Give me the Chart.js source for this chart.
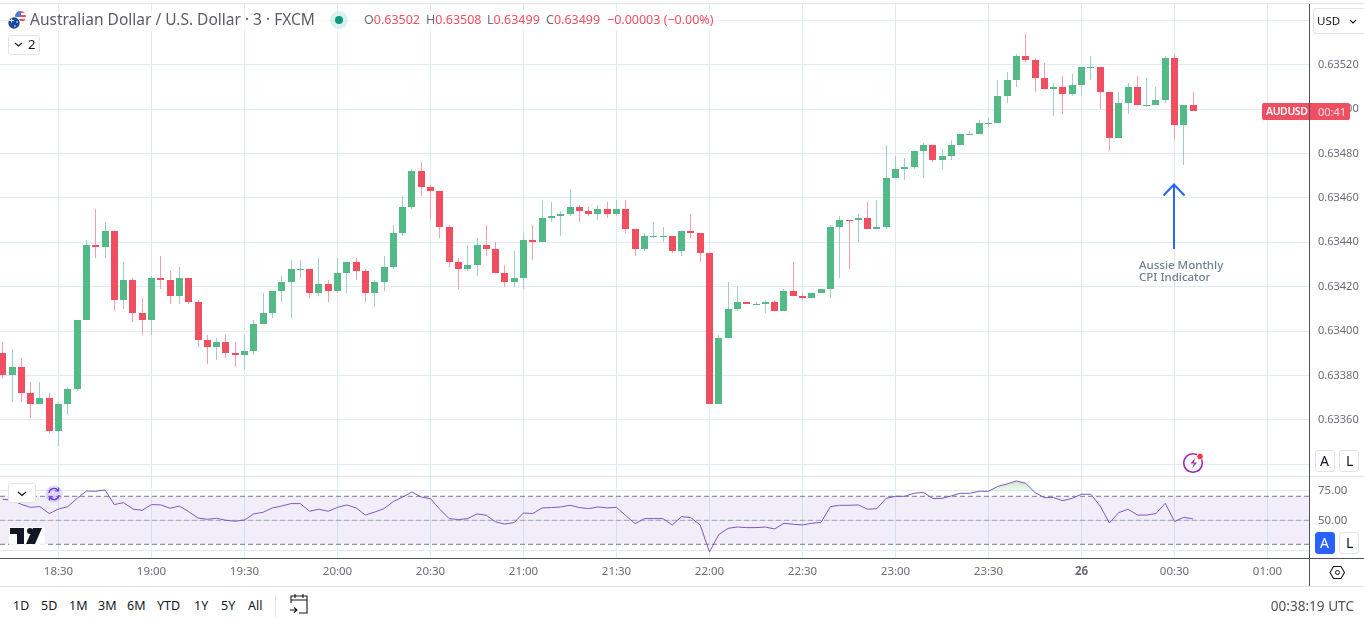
<!DOCTYPE html>
<html><head><meta charset="utf-8">
<style>
html,body{margin:0;padding:0;background:#fff;width:1364px;height:621px;overflow:hidden;font-family:"Noto Sans",sans-serif;}
canvas{position:absolute;left:0;}
.t{position:absolute;white-space:nowrap;line-height:1;}
.box{position:absolute;box-sizing:border-box;border:1px solid #e0e3eb;border-radius:3px;background:#fff;}
.ln{position:absolute;}
.r{color:#ef4f60}
.o{position:absolute;white-space:nowrap;line-height:1;top:14px;font-size:12.5px;color:#6a6d78}
svg{position:absolute;left:0;top:0;}
</style>
<script src="https://cdn.jsdelivr.net/npm/chart.js@4/dist/chart.umd.min.js"></script>
</head><body>
<canvas id="main" width="1364" height="472" style="top:4px;width:1364px;height:472px"></canvas>
<canvas id="rsi" width="1364" height="109" style="top:477px;width:1364px;height:109px"></canvas>
<div class="ln" style="left:0;top:3px;width:1364px;height:1px;background:#e0e3eb"></div>
<div class="ln" style="left:0;top:476px;width:1364px;height:1px;background:#e0e3eb"></div>
<div class="ln" style="left:0;top:558px;width:1364px;height:1px;background:#50535e"></div>
<div class="ln" style="left:1309px;top:4px;width:1px;height:582px;background:#50535e"></div>
<div class="ln" style="left:0;top:586px;width:1364px;height:1px;background:#e0e3eb"></div>
<div class="ln" style="left:275px;top:595px;width:1px;height:22px;background:#e0e3eb"></div>

<div class="ln" style="left:28px;top:11px;width:690px;height:20px;background:rgba(255,255,255,.75)"></div>
<div class="t" style="left:30px;top:12px;font-size:15.5px;color:#5a5d68">Australian Dollar / U.S. Dollar · 3 · FXCM</div>
<div class="o" style="left:364px">O<span class="r">0.63502</span></div>
<div class="o" style="left:426px">H<span class="r">0.63508</span></div>
<div class="o" style="left:487px">L<span class="r">0.63499</span></div>
<div class="o" style="left:546px">C<span class="r">0.63499</span></div>
<div class="o r" style="left:607px;color:#ef4f60">−0.00003 (−0.00%)</div>
<div class="box" style="left:8px;top:35px;width:32px;height:20px"></div>
<div class="t" style="left:28px;top:38px;font-size:13px;color:#131722">2</div>
<div class="box" style="left:8px;top:483px;width:28px;height:20px"></div>

<div class="box" style="left:1313px;top:8px;width:51px;height:26px;border-radius:4px 0 0 4px;border-right:0"></div>
<div class="t" style="left:1317px;top:15px;font-size:11.5px;color:#131722">USD</div>

<div class="ln" style="left:1262px;top:103px;width:88px;height:17px;background:#ef4f60;border-radius:2px"></div>
<div class="ln" style="left:1309px;top:103px;width:1px;height:17px;background:#50535e"></div>
<div class="t" style="left:1266px;top:106px;font-size:10.5px;font-weight:600;letter-spacing:-.4px;color:#fff">AUDUSD</div>
<div class="t" style="left:1318px;top:106px;font-size:11px;color:#fbdde0">00:41</div>

<div class="t" style="left:1139px;top:259px;font-size:11.5px;font-weight:500;color:#708090">Aussie Monthly</div>
<div class="t" style="left:1139px;top:271px;font-size:11.5px;font-weight:500;color:#708090">CPI Indicator</div>

<div class="box" style="left:1315px;top:450px;width:20px;height:22px"></div>
<div class="t" style="left:1320px;top:454px;font-size:14px;color:#131722">A</div>
<div class="box" style="left:1339px;top:450px;width:20px;height:22px"></div>
<div class="t" style="left:1346px;top:454px;font-size:14px;color:#131722">L</div>
<div class="box" style="left:1315px;top:532px;width:20px;height:22px;background:#2962ff;border-color:#2962ff"></div>
<div class="t" style="left:1320px;top:536px;font-size:14px;color:#fff">A</div>
<div class="box" style="left:1339px;top:532px;width:20px;height:22px"></div>
<div class="t" style="left:1346px;top:536px;font-size:14px;color:#131722">L</div>

<div class="t" style="left:13px;top:600px;font-size:12.5px;color:#131722">1D</div>
<div class="t" style="left:41px;top:600px;font-size:12.5px;color:#131722">5D</div>
<div class="t" style="left:69px;top:600px;font-size:12.5px;color:#131722">1M</div>
<div class="t" style="left:98px;top:600px;font-size:12.5px;color:#131722">3M</div>
<div class="t" style="left:127px;top:600px;font-size:12.5px;color:#131722">6M</div>
<div class="t" style="left:157px;top:600px;font-size:12.5px;color:#131722">YTD</div>
<div class="t" style="left:194px;top:600px;font-size:12.5px;color:#131722">1Y</div>
<div class="t" style="left:221px;top:600px;font-size:12.5px;color:#131722">5Y</div>
<div class="t" style="left:248px;top:600px;font-size:12.5px;color:#131722">All</div>
<div class="t" style="right:10px;top:599px;font-size:13.6px;color:#50535e">00:38:19 UTC</div>

<svg width="1364" height="621" viewBox="0 0 1364 621" fill="none">
 <defs><clipPath id="us"><circle cx="20.5" cy="16.5" r="5.5"/></clipPath></defs>
 <g clip-path="url(#us)"><rect x="15" y="11" width="12" height="12" fill="#fff"/>
  <rect x="15" y="11" width="12" height="2" fill="#ef4f60"/><rect x="15" y="15" width="12" height="2" fill="#ef4f60"/><rect x="15" y="19" width="12" height="2" fill="#ef4f60"/>
  <rect x="15" y="11" width="6" height="6" fill="#4a7fd8"/></g>
 <circle cx="14" cy="23" r="6.5" fill="#fff"/><circle cx="14" cy="23" r="5.7" fill="#1d4a9c"/>
 <path d="M9 20h5v1H9zM11 18.5h1v4h-1z" fill="#f5f5f5"/><circle cx="15" cy="26" r=".8" fill="#fff"/><circle cx="17" cy="22" r=".8" fill="#fff"/>
 <circle cx="339" cy="20" r="9" fill="#089981" fill-opacity=".14"/><circle cx="339" cy="20" r="4" fill="#089981"/>
 <path d="M15 43l3.500 3 3.500-3" stroke="#131722" stroke-width="1.100"/>
 <path d="M18 492l4 3.500 4-3.500" stroke="#131722" stroke-width="1.200"/>
 <path d="M1350 20l3 3 3-3" stroke="#131722" stroke-width="1.100"/>
 <path d="M1174 249V185M1163.500 195.500L1174 184.500l10.500 11" stroke="#2962ff" stroke-width="2"/>
 <circle cx="54" cy="494" r="8.500" fill="#9c7cf0" fill-opacity=".3"/>
 <path d="M49 493a5 5 0 0 1 9-2.500M59 495a5 5 0 0 1-9 2.500" stroke="#6237e8" stroke-width="1.300"/>
 <path d="M58.500 487.500v3.500h-3.500M49.500 500.500v-3.500h3.500" stroke="#6237e8" stroke-width="1.200"/>
 <g transform="translate(10 528)"><path d="M-1-1h36v18H-1z" fill="#fff" fill-opacity=".85"/><path d="M0 0h14v16H7V6H0z" fill="#131722"/><circle cx="20" cy="3" r="3" fill="#131722"/><path d="M23 0h9l-7 16h-9z" fill="#131722"/></g>
 <circle cx="1193" cy="463" r="9.300" stroke="#9c27b0" stroke-width="1.600"/>
 <path d="M1195.500 457.500l-5 6h3.500l-2 5 5-6h-3.500z" fill="#9c27b0"/>
 <circle cx="1200" cy="456.500" r="3.200" fill="#f23645" stroke="#fff" stroke-width=".8"/>
 <path d="M1330 572.500l3.500-6h7.500l3.500 6-3.500 6h-7.500z" stroke="#131722" stroke-width="1.100" stroke-linejoin="round"/><circle cx="1337.500" cy="572.500" r="2" stroke="#131722"/>
 <g stroke="#131722" stroke-width="1.100"><path d="M291 603v-7h16v17h-8M291 600h16M295 594v4M303 594v4M290 610h7M294 607.500l3 2.500-3 2.500"/></g>
</svg>

<script>
const barTimes=["18:12","18:15","18:18","18:21","18:24","18:27","18:30","18:33","18:36","18:39","18:42","18:45","18:48","18:51","18:54","18:57","19:00","19:03","19:06","19:09","19:12","19:15","19:18","19:21","19:24","19:27","19:30","19:33","19:36","19:39","19:42","19:45","19:48","19:51","19:54","19:57","20:00","20:03","20:06","20:09","20:12","20:15","20:18","20:21","20:24","20:27","20:30","20:33","20:36","20:39","20:42","20:45","20:48","20:51","20:54","20:57","21:00","21:03","21:06","21:09","21:12","21:15","21:18","21:21","21:24","21:27","21:30","21:33","21:36","21:39","21:42","21:45","21:48","21:51","21:54","21:57","22:00","22:03","22:06","22:09","22:12","22:15","22:18","22:21","22:24","22:27","22:30","22:33","22:36","22:39","22:42","22:45","22:48","22:51","22:54","22:57","23:00","23:03","23:06","23:09","23:12","23:15","23:18","23:21","23:24","23:27","23:30","23:33","23:36","23:39","23:42","23:45","23:48","23:51","23:54","23:57","00:00","00:03","00:06","00:09","00:12","00:15","00:18","00:21","00:24","00:27","00:30","00:33","00:36"];
const opens=[0.63390,0.63380,0.63384,0.63372,0.63367,0.63370,0.63355,0.63367,0.63374,0.63405,0.63439,0.63438,0.63445,0.63414,0.63423,0.63408,0.63405,0.63424,0.63423,0.63416,0.63424,0.63413,0.63396,0.63393,0.63395,0.63390,0.63389,0.63391,0.63403,0.63408,0.63418,0.63422,0.63428,0.63428,0.63417,0.63421,0.63418,0.63426,0.63431,0.63427,0.63417,0.63422,0.63429,0.63444,0.63456,0.63472,0.63465,0.63463,0.63447,0.63431,0.63428,0.63430,0.63439,0.63437,0.63426,0.63422,0.63424,0.63441,0.63440,0.63451,0.63452,0.63453,0.63456,0.63454,0.63453,0.63455,0.63453,0.63455,0.63446,0.63437,0.63443,0.63443,0.63443,0.63436,0.63445,0.63444,0.63435,0.63367,0.63397,0.63410,0.63413,0.63412,0.63412,0.63413,0.63409,0.63418,0.63416,0.63415,0.63417,0.63419,0.63447,0.63450,0.63450,0.63451,0.63446,0.63447,0.63469,0.63473,0.63474,0.63481,0.63484,0.63477,0.63479,0.63484,0.63489,0.63489,0.63494,0.63494,0.63506,0.63513,0.63524,0.63522,0.63514,0.63509,0.63510,0.63507,0.63511,0.63519,0.63519,0.63508,0.63487,0.63503,0.63510,0.63502,0.63502,0.63504,0.63523,0.63493,0.63502];
const highs=[0.63395,0.63392,0.63388,0.63377,0.63377,0.63372,0.63368,0.63375,0.63405,0.63441,0.63455,0.63449,0.63445,0.63431,0.63424,0.63415,0.63425,0.63434,0.63427,0.63429,0.63424,0.63414,0.63398,0.63397,0.63398,0.63395,0.63398,0.63405,0.63417,0.63418,0.63425,0.63432,0.63432,0.63428,0.63433,0.63423,0.63433,0.63431,0.63433,0.63428,0.63423,0.63434,0.63448,0.63461,0.63473,0.63476,0.63466,0.63463,0.63448,0.63433,0.63439,0.63442,0.63448,0.63440,0.63430,0.63436,0.63444,0.63448,0.63459,0.63458,0.63454,0.63464,0.63457,0.63456,0.63457,0.63458,0.63459,0.63459,0.63446,0.63444,0.63449,0.63447,0.63443,0.63445,0.63453,0.63444,0.63435,0.63398,0.63422,0.63420,0.63413,0.63413,0.63414,0.63414,0.63419,0.63431,0.63417,0.63417,0.63419,0.63448,0.63452,0.63450,0.63453,0.63458,0.63459,0.63484,0.63479,0.63478,0.63481,0.63485,0.63484,0.63482,0.63486,0.63489,0.63490,0.63495,0.63496,0.63513,0.63517,0.63525,0.63534,0.63523,0.63521,0.63512,0.63515,0.63516,0.63519,0.63524,0.63519,0.63508,0.63508,0.63512,0.63515,0.63514,0.63510,0.63524,0.63525,0.63502,0.63508];
const lows=[0.63379,0.63368,0.63368,0.63361,0.63367,0.63354,0.63348,0.63362,0.63373,0.63405,0.63433,0.63433,0.63409,0.63410,0.63404,0.63398,0.63398,0.63419,0.63412,0.63412,0.63412,0.63393,0.63385,0.63387,0.63388,0.63384,0.63383,0.63389,0.63403,0.63406,0.63413,0.63406,0.63424,0.63415,0.63416,0.63413,0.63417,0.63417,0.63423,0.63413,0.63411,0.63418,0.63428,0.63443,0.63455,0.63461,0.63450,0.63442,0.63429,0.63419,0.63427,0.63425,0.63434,0.63426,0.63420,0.63420,0.63419,0.63432,0.63440,0.63449,0.63443,0.63452,0.63449,0.63452,0.63450,0.63451,0.63452,0.63444,0.63434,0.63436,0.63442,0.63440,0.63435,0.63434,0.63442,0.63431,0.63367,0.63367,0.63397,0.63409,0.63412,0.63412,0.63408,0.63409,0.63409,0.63416,0.63414,0.63415,0.63417,0.63415,0.63424,0.63428,0.63440,0.63446,0.63446,0.63446,0.63469,0.63468,0.63473,0.63469,0.63476,0.63473,0.63477,0.63484,0.63489,0.63489,0.63492,0.63494,0.63503,0.63510,0.63521,0.63508,0.63509,0.63497,0.63498,0.63506,0.63506,0.63513,0.63500,0.63481,0.63487,0.63498,0.63502,0.63501,0.63502,0.63503,0.63486,0.63475,0.63499];
const closes=[0.63380,0.63384,0.63372,0.63367,0.63370,0.63355,0.63367,0.63374,0.63405,0.63439,0.63438,0.63445,0.63414,0.63423,0.63408,0.63405,0.63424,0.63423,0.63416,0.63424,0.63413,0.63396,0.63393,0.63395,0.63390,0.63389,0.63391,0.63403,0.63408,0.63418,0.63422,0.63428,0.63428,0.63417,0.63421,0.63418,0.63426,0.63431,0.63427,0.63417,0.63422,0.63429,0.63444,0.63456,0.63472,0.63465,0.63463,0.63447,0.63431,0.63428,0.63430,0.63439,0.63437,0.63426,0.63422,0.63424,0.63441,0.63440,0.63451,0.63452,0.63453,0.63456,0.63454,0.63453,0.63455,0.63453,0.63455,0.63446,0.63437,0.63443,0.63443,0.63443,0.63436,0.63445,0.63444,0.63435,0.63367,0.63397,0.63410,0.63413,0.63412,0.63412,0.63413,0.63409,0.63418,0.63416,0.63415,0.63417,0.63419,0.63447,0.63450,0.634498,0.63451,0.63446,0.63447,0.63469,0.63473,0.63474,0.63481,0.63484,0.63477,0.63479,0.63484,0.63489,0.63489,0.63494,0.63494,0.63506,0.63513,0.63524,0.63522,0.63514,0.63509,0.63510,0.63507,0.63511,0.63519,0.63519,0.63508,0.63487,0.63503,0.63510,0.63502,0.63502,0.63504,0.63523,0.63493,0.63502,0.63499];
const rsiValues=[67.5,66.9,63.3,60.8,61.4,55.6,59.4,61.4,68.3,74.4,74.2,75.3,63.1,64.7,59.4,58.3,63.1,62.8,60,61.9,57.2,51.9,50.8,51.7,50,49.2,50.3,55.3,56.7,60.3,61.9,63.9,63.9,57.5,59.2,57.5,60.8,62.8,60.3,54.4,56.9,59.7,65.6,69.4,73.6,69.4,68,59.2,51.4,50.6,51.4,55.3,54.2,48.6,46.9,48.1,56.1,55.6,60.3,60.6,61.1,62.5,60.6,59.7,61.1,60.3,60.8,53.9,47.2,51.4,51.4,51.4,46.1,53.1,52.2,46.1,23.6,38.1,43.3,44.4,43.9,43.9,44.4,42.8,47.5,46.7,46.1,47.5,48.3,61.4,62.5,62.5,62.8,59.2,59.7,68.3,70,70,72.5,73.3,68.1,68.3,70.3,72.5,72.5,74.2,74.2,78.3,80.3,82.8,80.8,73.1,68.9,68.9,66.4,68.3,71.7,71.7,61.9,47.8,56.4,59.2,54.4,54.4,55.6,64.2,48.9,52.5,51.1];
const axisTimeTicks=["18:30","19:00","19:30","20:00","20:30","21:00","21:30","22:00","22:30","23:00","23:30","26","00:30","01:00"];
const rsiBands=[70,50,30];

const GREEN="#53b987",RED="#ef4f60",WICK_G="#a3ccc9",WICK_R="#f79dab",GRID="#e1ecf2",AXIS_TXT="#6a6d78";
const FONT='"Noto Sans",sans-serif';
const XMIN=-18.871,XMAX=403.387;
function minutesOf(t){const[h,m]=t.split(":").map(Number);let d=h*60+m-1110;if(d<-720)d+=1440;return d;}
const xs=barTimes.map(minutesOf);
const up=closes.map((c,i)=>c>=opens[i]);
const wickData=xs.map((x,i)=>({x,y:[lows[i],highs[i]]}));
const bodyData=xs.map((x,i)=>({x,y:[opens[i],closes[i]]}));
const snap={id:"snap",afterDatasetsUpdate(chart){
  chart.getSortedVisibleDatasetMetas().forEach(m=>{if(m.type!=="bar")return;m.data.forEach(el=>{
    el.x=Math.floor(el.x)+.5;
    let a=Math.round(Math.min(el.y,el.base)),b=Math.round(Math.max(el.y,el.base));
    if(b<=a)b=a+1; el.y=a;el.base=b;el.height=b-a;});});}};
const noPadY=s=>{s.width=55;s.paddingTop=0;s.paddingBottom=0;};
Chart.defaults.animation=false;
new Chart(document.getElementById("main"),{type:"bar",plugins:[snap],
 data:{datasets:[
  {label:"wick",data:wickData,backgroundColor:up.map(u=>u?WICK_G:WICK_R),barThickness:1,grouped:false,inflateAmount:0,order:2},
  {label:"AUDUSD",data:bodyData,backgroundColor:up.map(u=>u?GREEN:RED),barThickness:7,grouped:false,inflateAmount:0,order:1}]},
 options:{responsive:false,devicePixelRatio:1,layout:{padding:0},plugins:{legend:{display:false},tooltip:{enabled:false}},
  scales:{
   x:{type:"linear",min:XMIN,max:XMAX,offset:false,position:"bottom",
      grid:{offset:false,color:GRID,drawTicks:false},border:{display:false},
      ticks:{display:false,stepSize:30,includeBounds:false,autoSkip:false},
      afterFit:s=>{s.height=0;s.paddingLeft=0;s.paddingRight=0;}},
   y:{type:"linear",position:"right",min:0.63334655,max:0.63547457,beginAtZero:false,
      grid:{color:GRID,drawTicks:false},border:{display:false},
      ticks:{stepSize:0.0002,includeBounds:false,padding:9,color:AXIS_TXT,font:{family:FONT,size:11},callback:v=>(Math.abs(v-0.6334)<1e-6||Math.abs(v-0.6354)<1e-6)?"":v.toFixed(5)},
      afterFit:noPadY}}}});
const rsiCanvas=document.getElementById("rsi");
const obFade=rsiCanvas.getContext("2d").createLinearGradient(0,3,0,17);
obFade.addColorStop(0,"rgba(76,175,80,.32)");obFade.addColorStop(1,"rgba(76,175,80,0)");
new Chart(rsiCanvas,{type:"line",
 data:{datasets:[
  {label:"Upper",data:[{x:XMIN,y:rsiBands[0]},{x:XMAX,y:rsiBands[0]}],borderColor:"#787b86",borderWidth:1,borderDash:[5,3],pointRadius:0,fill:{target:"+2",above:"rgba(126,87,194,.1)",below:"rgba(126,87,194,.1)"},order:3},
  {label:"Middle",data:[{x:XMIN,y:rsiBands[1]},{x:XMAX,y:rsiBands[1]}],borderColor:"rgba(120,123,134,.6)",borderWidth:1,borderDash:[5,3],pointRadius:0,fill:false,order:3},
  {label:"Lower",data:[{x:XMIN,y:rsiBands[2]},{x:XMAX,y:rsiBands[2]}],borderColor:"#787b86",borderWidth:1,borderDash:[5,3],pointRadius:0,fill:false,order:3},
  {label:"RSI",data:xs.map((x,i)=>({x,y:rsiValues[i]})),borderColor:"#7e57c2",borderWidth:1,pointRadius:0,tension:0,fill:{target:{value:70},above:obFade,below:"rgba(0,0,0,0)"},order:1}]},
 options:{responsive:false,devicePixelRatio:1,layout:{padding:0},plugins:{legend:{display:false},tooltip:{enabled:false}},
  scales:{
   x:{type:"linear",min:XMIN,max:XMAX,offset:false,
      grid:{color:GRID,drawTicks:false},border:{display:false},
      ticks:{stepSize:30,includeBounds:false,autoSkip:false,maxRotation:0,padding:7,color:AXIS_TXT,
        font:c=>({family:FONT,size:11.5,weight:c.tick&&c.tick.label==="26"?"700":"400"}),
        callback:v=>axisTimeTicks[Math.round(v/30)]},
      afterFit:s=>{s.height=28;s.paddingLeft=0;s.paddingRight=0;}},
   y:{type:"linear",position:"right",min:18.58,max:86.08,
      grid:{color:GRID,drawTicks:false},border:{display:false},
      ticks:{stepSize:25,includeBounds:false,padding:9,color:AXIS_TXT,font:{family:FONT,size:11.5},callback:v=>v===25?"":v.toFixed(2)},
      afterFit:noPadY}}}});
</script>
</body></html>
